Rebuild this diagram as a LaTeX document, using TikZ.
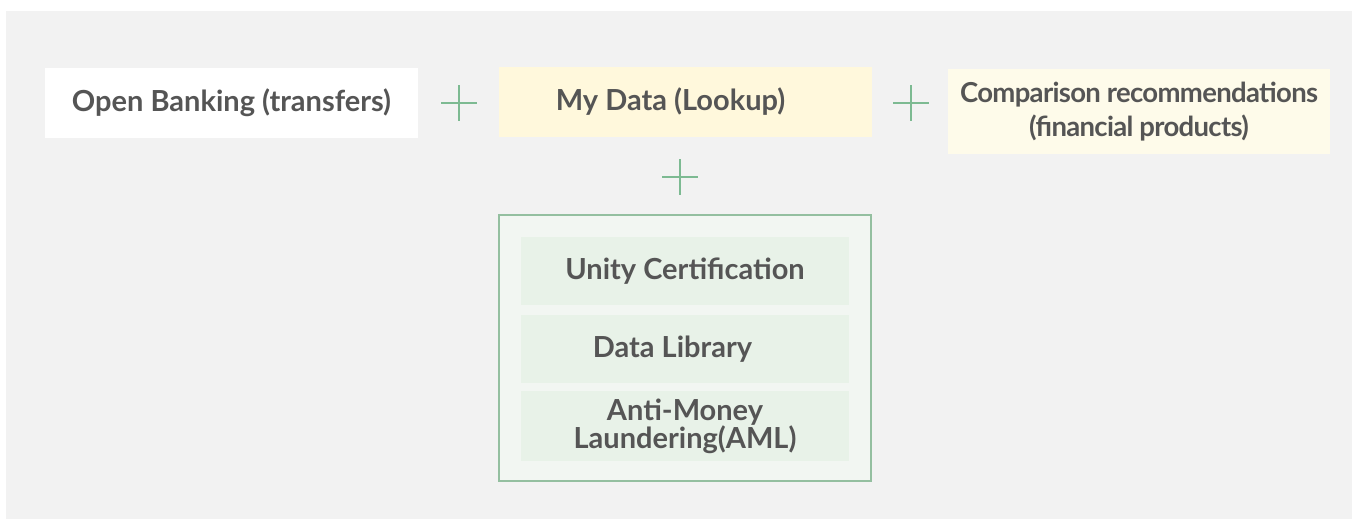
\documentclass[tikz,border=0pt]{standalone}
\usepackage{fontspec}
\setmainfont{Lato}
\usetikzlibrary{positioning}

\definecolor{panelgrey}{HTML}{F2F2F2}
\definecolor{textgrey}{HTML}{555555}
\definecolor{plusgreen}{HTML}{7DBA92}
\definecolor{framegreen}{HTML}{94BFA0}
\definecolor{framefill}{HTML}{F2F6F2}
\definecolor{rowfill}{HTML}{E8F2E8}
\definecolor{datayellow}{HTML}{FFF8DC}
\definecolor{cmpcream}{HTML}{FEFBEA}

\tikzset{
  box/.style={inner sep=0pt, text=textgrey, align=center,
    font=\fontsize{29}{32}\selectfont\bfseries},
  topbox/.style={box, minimum width=373pt, minimum height=70pt},
  rowbox/.style={box, fill=rowfill, minimum width=328pt, minimum height=68pt},
  plusmark/.style={minimum size=36pt, inner sep=0pt,
    path picture={\draw[plusgreen, line width=1.6pt]
      (path picture bounding box.north) -- (path picture bounding box.south)
      (path picture bounding box.west) -- (path picture bounding box.east);}}
}

\begin{document}
\begin{tikzpicture}[x=1pt,y=-1pt]
    \useasboundingbox (0,0) rectangle (1352,519);
    % Draw background panel
    \fill[panelgrey] (6,11) rectangle (1352,519);

    % Draw top row of services
    \node[topbox, fill=white] (openbank) at (231.5,103) {Open Banking (transfers)};
    \node[plusmark] (plusa) at (459,103) {};
    \node[topbox, fill=datayellow] (mydata) at (685.5,102) {My Data (Lookup)\hspace{30pt}};
    \node[plusmark] (plusb) at (911,103) {};
    \node[topbox, fill=cmpcream, minimum width=382pt, minimum height=85pt,
          font=\fontsize{27.5}{34}\selectfont\bfseries\addfontfeature{LetterSpace=-2.5}]
          (compare) at (1139,111.5) {Comparison recommendations\\(financial products)};

    % Draw plus under My Data
    \node[plusmark] (plusc) at (680,177) {};

    % Draw infrastructure frame
    \node[draw=framegreen, line width=1.6pt, fill=framefill,
          minimum width=372pt, minimum height=266pt, inner sep=0pt] (frame) at (685,348) {};
    \node[rowbox] (unity) at (685,271) {Unity Certification};
    \node[rowbox] (datalib) at (685,349) {Data Library\hspace{25pt}};
    \node[rowbox, minimum height=70pt,
          font=\fontsize{29}{28}\selectfont\bfseries] (aml) at (685,426) {Anti-Money\\Laundering(AML)};

\end{tikzpicture}
\end{document}
